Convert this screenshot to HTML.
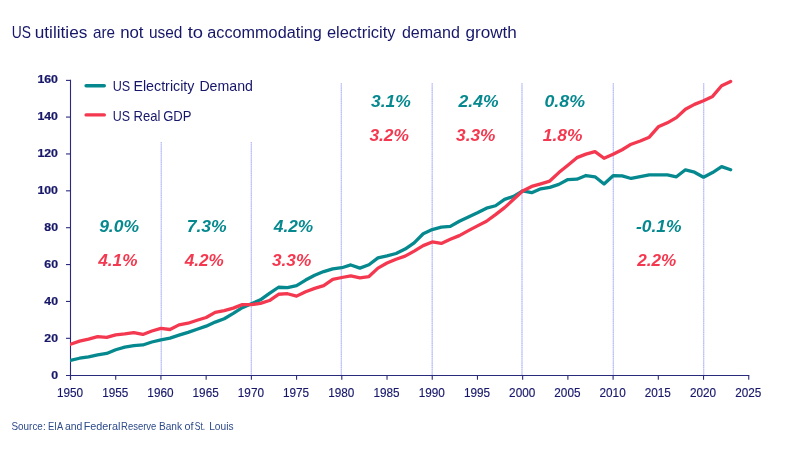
<!DOCTYPE html>
<html><head><meta charset="utf-8"><title>US utilities are not used to accommodating electricity demand growth</title>
<style>html,body{margin:0;padding:0;background:#fff}body{width:800px;height:450px;overflow:hidden}svg{display:block;will-change:transform;transform:translateZ(0)}text{font-family:"Liberation Sans",sans-serif}.bi{font-weight:bold;font-style:italic}</style></head><body>
<svg width="800" height="450" viewBox="0 0 800 450">
<rect width="800" height="450" fill="#fff"/>
<line x1="161.25" y1="142.0" x2="161.25" y2="375" stroke="#cbcefc" stroke-width="1.05"/>
<line x1="161.25" y1="142.0" x2="161.25" y2="375" stroke="#b6bafb" stroke-width="1.05" stroke-dasharray="1.1 1.1"/>
<line x1="251.3" y1="142.0" x2="251.3" y2="375" stroke="#cbcefc" stroke-width="1.05"/>
<line x1="251.3" y1="142.0" x2="251.3" y2="375" stroke="#b6bafb" stroke-width="1.05" stroke-dasharray="1.1 1.1"/>
<line x1="341.3" y1="83.2" x2="341.3" y2="375" stroke="#cbcefc" stroke-width="1.05"/>
<line x1="341.3" y1="83.2" x2="341.3" y2="375" stroke="#b6bafb" stroke-width="1.05" stroke-dasharray="1.1 1.1"/>
<line x1="432.2" y1="83.2" x2="432.2" y2="375" stroke="#cbcefc" stroke-width="1.05"/>
<line x1="432.2" y1="83.2" x2="432.2" y2="375" stroke="#b6bafb" stroke-width="1.05" stroke-dasharray="1.1 1.1"/>
<line x1="522.0" y1="83.2" x2="522.0" y2="375" stroke="#cbcefc" stroke-width="1.05"/>
<line x1="522.0" y1="83.2" x2="522.0" y2="375" stroke="#b6bafb" stroke-width="1.05" stroke-dasharray="1.1 1.1"/>
<line x1="613.3" y1="83.2" x2="613.3" y2="375" stroke="#cbcefc" stroke-width="1.05"/>
<line x1="613.3" y1="83.2" x2="613.3" y2="375" stroke="#b6bafb" stroke-width="1.05" stroke-dasharray="1.1 1.1"/>
<line x1="703.7" y1="83.2" x2="703.7" y2="375" stroke="#cbcefc" stroke-width="1.05"/>
<line x1="703.7" y1="83.2" x2="703.7" y2="375" stroke="#b6bafb" stroke-width="1.05" stroke-dasharray="1.1 1.1"/>
<line x1="70.5" y1="79.85" x2="70.5" y2="379.8" stroke="#2a2a7c" stroke-width="1.1"/>
<line x1="66" y1="375.45" x2="749.30" y2="375.45" stroke="#2a2a7c" stroke-width="1.1"/>
<text transform="translate(51.14,379.01) scale(1.045,1)" font-size="11.8" font-weight="bold" fill="#17176a" stroke="#17176a" stroke-width="0.22">0</text>
<line x1="66" y1="338.32" x2="70.5" y2="338.32" stroke="#2a2a7c" stroke-width="1.1"/>
<text transform="translate(44.28,342.44) scale(1.045,1)" font-size="11.8" font-weight="bold" fill="#17176a" stroke="#17176a" stroke-width="0.22">20</text>
<line x1="66" y1="301.45" x2="70.5" y2="301.45" stroke="#2a2a7c" stroke-width="1.1"/>
<text transform="translate(44.28,305.07) scale(1.045,1)" font-size="11.8" font-weight="bold" fill="#17176a" stroke="#17176a" stroke-width="0.22">40</text>
<line x1="66" y1="264.57" x2="70.5" y2="264.57" stroke="#2a2a7c" stroke-width="1.1"/>
<text transform="translate(44.28,268.10) scale(1.045,1)" font-size="11.8" font-weight="bold" fill="#17176a" stroke="#17176a" stroke-width="0.22">60</text>
<line x1="66" y1="227.70" x2="70.5" y2="227.70" stroke="#2a2a7c" stroke-width="1.1"/>
<text transform="translate(44.28,231.13) scale(1.045,1)" font-size="11.8" font-weight="bold" fill="#17176a" stroke="#17176a" stroke-width="0.22">80</text>
<line x1="66" y1="190.82" x2="70.5" y2="190.82" stroke="#2a2a7c" stroke-width="1.1"/>
<text transform="translate(37.43,194.16) scale(1.045,1)" font-size="11.8" font-weight="bold" fill="#17176a" stroke="#17176a" stroke-width="0.22">100</text>
<line x1="66" y1="153.95" x2="70.5" y2="153.95" stroke="#2a2a7c" stroke-width="1.1"/>
<text transform="translate(37.43,157.19) scale(1.045,1)" font-size="11.8" font-weight="bold" fill="#17176a" stroke="#17176a" stroke-width="0.22">120</text>
<line x1="66" y1="117.07" x2="70.5" y2="117.07" stroke="#2a2a7c" stroke-width="1.1"/>
<text transform="translate(37.43,120.22) scale(1.045,1)" font-size="11.8" font-weight="bold" fill="#17176a" stroke="#17176a" stroke-width="0.22">140</text>
<line x1="66" y1="80.40" x2="70.5" y2="80.40" stroke="#2a2a7c" stroke-width="1.1"/>
<text transform="translate(37.43,83.25) scale(1.045,1)" font-size="11.8" font-weight="bold" fill="#17176a" stroke="#17176a" stroke-width="0.22">160</text>
<line x1="70.50" y1="375.45" x2="70.50" y2="379.8" stroke="#2a2a7c" stroke-width="1.1"/>
<text transform="translate(70.00,396.8) scale(0.98,1)" font-size="12" fill="#17176a" stroke="#17176a" stroke-width="0.15" text-anchor="middle">1950</text>
<line x1="115.72" y1="375.45" x2="115.72" y2="379.8" stroke="#2a2a7c" stroke-width="1.1"/>
<text transform="translate(115.22,396.8) scale(0.98,1)" font-size="12" fill="#17176a" stroke="#17176a" stroke-width="0.15" text-anchor="middle">1955</text>
<line x1="160.93" y1="375.45" x2="160.93" y2="379.8" stroke="#2a2a7c" stroke-width="1.1"/>
<text transform="translate(160.43,396.8) scale(0.98,1)" font-size="12" fill="#17176a" stroke="#17176a" stroke-width="0.15" text-anchor="middle">1960</text>
<line x1="206.15" y1="375.45" x2="206.15" y2="379.8" stroke="#2a2a7c" stroke-width="1.1"/>
<text transform="translate(205.65,396.8) scale(0.98,1)" font-size="12" fill="#17176a" stroke="#17176a" stroke-width="0.15" text-anchor="middle">1965</text>
<line x1="251.37" y1="375.45" x2="251.37" y2="379.8" stroke="#2a2a7c" stroke-width="1.1"/>
<text transform="translate(250.87,396.8) scale(0.98,1)" font-size="12" fill="#17176a" stroke="#17176a" stroke-width="0.15" text-anchor="middle">1970</text>
<line x1="296.58" y1="375.45" x2="296.58" y2="379.8" stroke="#2a2a7c" stroke-width="1.1"/>
<text transform="translate(296.08,396.8) scale(0.98,1)" font-size="12" fill="#17176a" stroke="#17176a" stroke-width="0.15" text-anchor="middle">1975</text>
<line x1="341.80" y1="375.45" x2="341.80" y2="379.8" stroke="#2a2a7c" stroke-width="1.1"/>
<text transform="translate(341.30,396.8) scale(0.98,1)" font-size="12" fill="#17176a" stroke="#17176a" stroke-width="0.15" text-anchor="middle">1980</text>
<line x1="387.02" y1="375.45" x2="387.02" y2="379.8" stroke="#2a2a7c" stroke-width="1.1"/>
<text transform="translate(386.52,396.8) scale(0.98,1)" font-size="12" fill="#17176a" stroke="#17176a" stroke-width="0.15" text-anchor="middle">1985</text>
<line x1="432.23" y1="375.45" x2="432.23" y2="379.8" stroke="#2a2a7c" stroke-width="1.1"/>
<text transform="translate(431.73,396.8) scale(0.98,1)" font-size="12" fill="#17176a" stroke="#17176a" stroke-width="0.15" text-anchor="middle">1990</text>
<line x1="477.45" y1="375.45" x2="477.45" y2="379.8" stroke="#2a2a7c" stroke-width="1.1"/>
<text transform="translate(476.95,396.8) scale(0.98,1)" font-size="12" fill="#17176a" stroke="#17176a" stroke-width="0.15" text-anchor="middle">1995</text>
<line x1="522.66" y1="375.45" x2="522.66" y2="379.8" stroke="#2a2a7c" stroke-width="1.1"/>
<text transform="translate(522.16,396.8) scale(0.98,1)" font-size="12" fill="#17176a" stroke="#17176a" stroke-width="0.15" text-anchor="middle">2000</text>
<line x1="567.88" y1="375.45" x2="567.88" y2="379.8" stroke="#2a2a7c" stroke-width="1.1"/>
<text transform="translate(567.38,396.8) scale(0.98,1)" font-size="12" fill="#17176a" stroke="#17176a" stroke-width="0.15" text-anchor="middle">2005</text>
<line x1="613.10" y1="375.45" x2="613.10" y2="379.8" stroke="#2a2a7c" stroke-width="1.1"/>
<text transform="translate(612.60,396.8) scale(0.98,1)" font-size="12" fill="#17176a" stroke="#17176a" stroke-width="0.15" text-anchor="middle">2010</text>
<line x1="658.31" y1="375.45" x2="658.31" y2="379.8" stroke="#2a2a7c" stroke-width="1.1"/>
<text transform="translate(657.81,396.8) scale(0.98,1)" font-size="12" fill="#17176a" stroke="#17176a" stroke-width="0.15" text-anchor="middle">2015</text>
<line x1="703.53" y1="375.45" x2="703.53" y2="379.8" stroke="#2a2a7c" stroke-width="1.1"/>
<text transform="translate(703.03,396.8) scale(0.98,1)" font-size="12" fill="#17176a" stroke="#17176a" stroke-width="0.15" text-anchor="middle">2020</text>
<line x1="748.75" y1="375.45" x2="748.75" y2="379.8" stroke="#2a2a7c" stroke-width="1.1"/>
<text transform="translate(748.25,396.8) scale(0.98,1)" font-size="12" fill="#17176a" stroke="#17176a" stroke-width="0.15" text-anchor="middle">2025</text>
<clipPath id="pc"><rect x="69.9" y="60" width="700" height="330"/></clipPath>
<path d="M70.50,360.27 L79.54,358.24 L88.59,356.95 L97.63,354.92 L106.67,353.44 L115.72,349.76 L124.76,347.18 L133.80,345.70 L142.85,344.96 L151.89,342.01 L160.93,339.80 L169.98,338.14 L179.02,335.19 L188.06,332.43 L197.11,329.29 L206.15,326.16 L215.19,322.10 L224.24,318.78 L233.28,313.43 L242.32,307.72 L251.37,303.66 L260.41,299.79 L269.45,293.34 L278.50,287.25 L287.54,287.62 L296.58,285.59 L305.63,280.06 L314.67,275.27 L323.71,271.58 L332.76,268.82 L341.80,267.71 L350.84,264.94 L359.89,268.08 L368.93,264.76 L377.97,257.94 L387.02,255.91 L396.06,253.51 L405.10,249.09 L414.15,242.82 L423.19,233.78 L432.23,229.54 L441.28,227.15 L450.32,226.41 L459.36,221.25 L468.41,217.01 L477.45,212.77 L486.49,208.16 L495.54,205.76 L504.58,199.31 L513.62,196.36 L522.66,190.82 L531.71,192.67 L540.75,188.80 L549.79,187.32 L558.84,184.37 L567.88,179.58 L576.92,179.21 L585.97,175.52 L595.01,176.81 L604.05,184.00 L613.10,175.71 L622.14,175.89 L631.18,178.47 L640.23,176.63 L649.27,174.78 L658.31,174.97 L667.36,174.97 L676.40,176.81 L685.44,169.81 L694.49,172.20 L703.53,177.18 L712.57,172.57 L721.62,166.67 L730.66,169.81" clip-path="url(#pc)" fill="none" stroke="#05898f" stroke-width="3.3" stroke-linejoin="round" stroke-linecap="round"/>
<path d="M70.50,344.24 L79.54,341.11 L88.59,339.08 L97.63,336.68 L106.67,337.42 L115.72,334.84 L124.76,333.92 L133.80,332.62 L142.85,334.47 L151.89,330.97 L160.93,328.38 L169.98,329.49 L179.02,324.88 L188.06,323.22 L197.11,320.27 L206.15,317.51 L215.19,312.34 L224.24,310.68 L233.28,308.10 L242.32,304.60 L251.37,304.60 L260.41,303.40 L269.45,300.54 L278.50,294.27 L287.54,293.72 L296.58,296.12 L305.63,291.69 L314.67,288.37 L323.71,285.61 L332.76,279.34 L341.80,277.50 L350.84,275.84 L359.89,277.77 L368.93,276.57 L377.97,268.09 L387.02,263.02 L396.06,259.24 L405.10,256.11 L414.15,251.13 L423.19,245.60 L432.23,241.91 L441.28,243.39 L450.32,239.33 L459.36,235.64 L468.41,230.67 L477.45,225.87 L486.49,221.26 L495.54,214.62 L504.58,207.62 L513.62,199.32 L522.66,191.02 L531.71,186.42 L540.75,183.83 L549.79,181.07 L558.84,172.59 L567.88,165.21 L576.92,157.65 L585.97,154.15 L595.01,151.57 L604.05,158.21 L613.10,154.33 L622.14,149.72 L631.18,144.19 L640.23,141.06 L649.27,137.19 L658.31,126.86 L667.36,122.81 L676.40,117.64 L685.44,109.25 L694.49,104.37 L703.53,100.75 L712.57,96.44 L721.62,85.75 L730.66,81.41" clip-path="url(#pc)" fill="none" stroke="#f4384f" stroke-width="3.3" stroke-linejoin="round" stroke-linecap="round"/>
<line x1="86.1" y1="85.8" x2="104.3" y2="85.8" stroke="#05898f" stroke-width="3.4" stroke-linecap="round"/>
<line x1="86.1" y1="114.9" x2="104.3" y2="114.9" stroke="#f4384f" stroke-width="3.4" stroke-linecap="round"/>
<text transform="translate(11.73,37.75) scale(0.8660,1)" font-size="16.0" fill="#17176a">US</text>
<text transform="translate(34.72,37.75) scale(1.0758,1)" font-size="16.0" fill="#17176a">utilities</text>
<text transform="translate(92.92,37.75) scale(0.9556,1)" font-size="16.0" fill="#17176a">are</text>
<text transform="translate(120.15,37.75) scale(1.0518,1)" font-size="16.0" fill="#17176a">not</text>
<text transform="translate(148.94,37.75) scale(0.9635,1)" font-size="16.0" fill="#17176a">used</text>
<text transform="translate(187.70,37.75) scale(1.1500,1)" font-size="16.0" fill="#17176a">to</text>
<text transform="translate(207.29,37.75) scale(1.0148,1)" font-size="16.0" fill="#17176a">accommodating</text>
<text transform="translate(326.88,37.75) scale(1.0305,1)" font-size="16.0" fill="#17176a">electricity</text>
<text transform="translate(401.90,37.75) scale(1.0032,1)" font-size="16.0" fill="#17176a">demand</text>
<text transform="translate(465.46,37.75) scale(1.0702,1)" font-size="16.0" fill="#17176a">growth</text>
<text transform="translate(112.71,90.75) scale(0.8637,1)" font-size="14.6" fill="#17176a">US</text>
<text transform="translate(133.38,90.75) scale(0.9784,1)" font-size="14.6" fill="#17176a">Electricity</text>
<text transform="translate(199.39,90.75) scale(0.9714,1)" font-size="14.6" fill="#17176a">Demand</text>
<text transform="translate(112.72,120.5) scale(0.8531,1)" font-size="14.6" fill="#17176a">US</text>
<text transform="translate(133.48,120.5) scale(0.8953,1)" font-size="14.6" fill="#17176a">Real</text>
<text transform="translate(163.19,120.5) scale(0.8965,1)" font-size="14.6" fill="#17176a">GDP</text>
<text transform="translate(11.44,430.15) scale(0.8862,1)" font-size="11.2" fill="#2c4a8b">Source:</text>
<text transform="translate(48.07,430.15) scale(0.8357,1)" font-size="11.2" fill="#2c4a8b">EIA</text>
<text transform="translate(64.97,430.15) scale(0.9318,1)" font-size="11.2" fill="#2c4a8b">and</text>
<text transform="translate(83.65,430.15) scale(0.9694,1)" font-size="11.2" fill="#2c4a8b">Federal</text>
<text transform="translate(121.06,430.15) scale(0.8470,1)" font-size="11.2" fill="#2c4a8b">Reserve</text>
<text transform="translate(158.96,430.15) scale(0.9062,1)" font-size="11.2" fill="#2c4a8b">Bank</text>
<text transform="translate(184.46,430.15) scale(0.9636,1)" font-size="11.2" fill="#2c4a8b">of</text>
<text transform="translate(194.73,430.15) scale(0.7663,1)" font-size="11.2" fill="#2c4a8b">St.</text>
<text transform="translate(209.20,430.15) scale(0.9100,1)" font-size="11.2" fill="#2c4a8b">Louis</text>
<text class="bi" transform="translate(99.13,232.1) scale(1.0170,1)" font-size="17.2" fill="#05898f">9.0%</text>
<text class="bi" transform="translate(98.29,266.25) scale(1.0001,1)" font-size="17.2" fill="#f4384f">4.1%</text>
<text class="bi" transform="translate(186.65,232.1) scale(1.0228,1)" font-size="17.2" fill="#05898f">7.3%</text>
<text class="bi" transform="translate(184.79,266.25) scale(0.9963,1)" font-size="17.2" fill="#f4384f">4.2%</text>
<text class="bi" transform="translate(273.79,232.1) scale(1.0064,1)" font-size="17.2" fill="#05898f">4.2%</text>
<text class="bi" transform="translate(272.00,266.25) scale(1.0010,1)" font-size="17.2" fill="#f4384f">3.3%</text>
<text class="bi" transform="translate(371.00,107.1) scale(1.0164,1)" font-size="17.2" fill="#05898f">3.1%</text>
<text class="bi" transform="translate(369.40,141.25) scale(1.0100,1)" font-size="17.2" fill="#f4384f">3.2%</text>
<text class="bi" transform="translate(458.52,107.1) scale(1.0197,1)" font-size="17.2" fill="#05898f">2.4%</text>
<text class="bi" transform="translate(456.10,141.25) scale(1.0049,1)" font-size="17.2" fill="#f4384f">3.3%</text>
<text class="bi" transform="translate(544.44,107.1) scale(1.0345,1)" font-size="17.2" fill="#05898f">0.8%</text>
<text class="bi" transform="translate(542.83,141.25) scale(1.0118,1)" font-size="17.2" fill="#f4384f">1.8%</text>
<text class="bi" transform="translate(635.98,232.1) scale(1.0131,1)" font-size="17.2" fill="#05898f">-0.1%</text>
<text class="bi" transform="translate(637.17,266.25) scale(0.9967,1)" font-size="17.2" fill="#f4384f">2.2%</text>
</svg></body></html>
